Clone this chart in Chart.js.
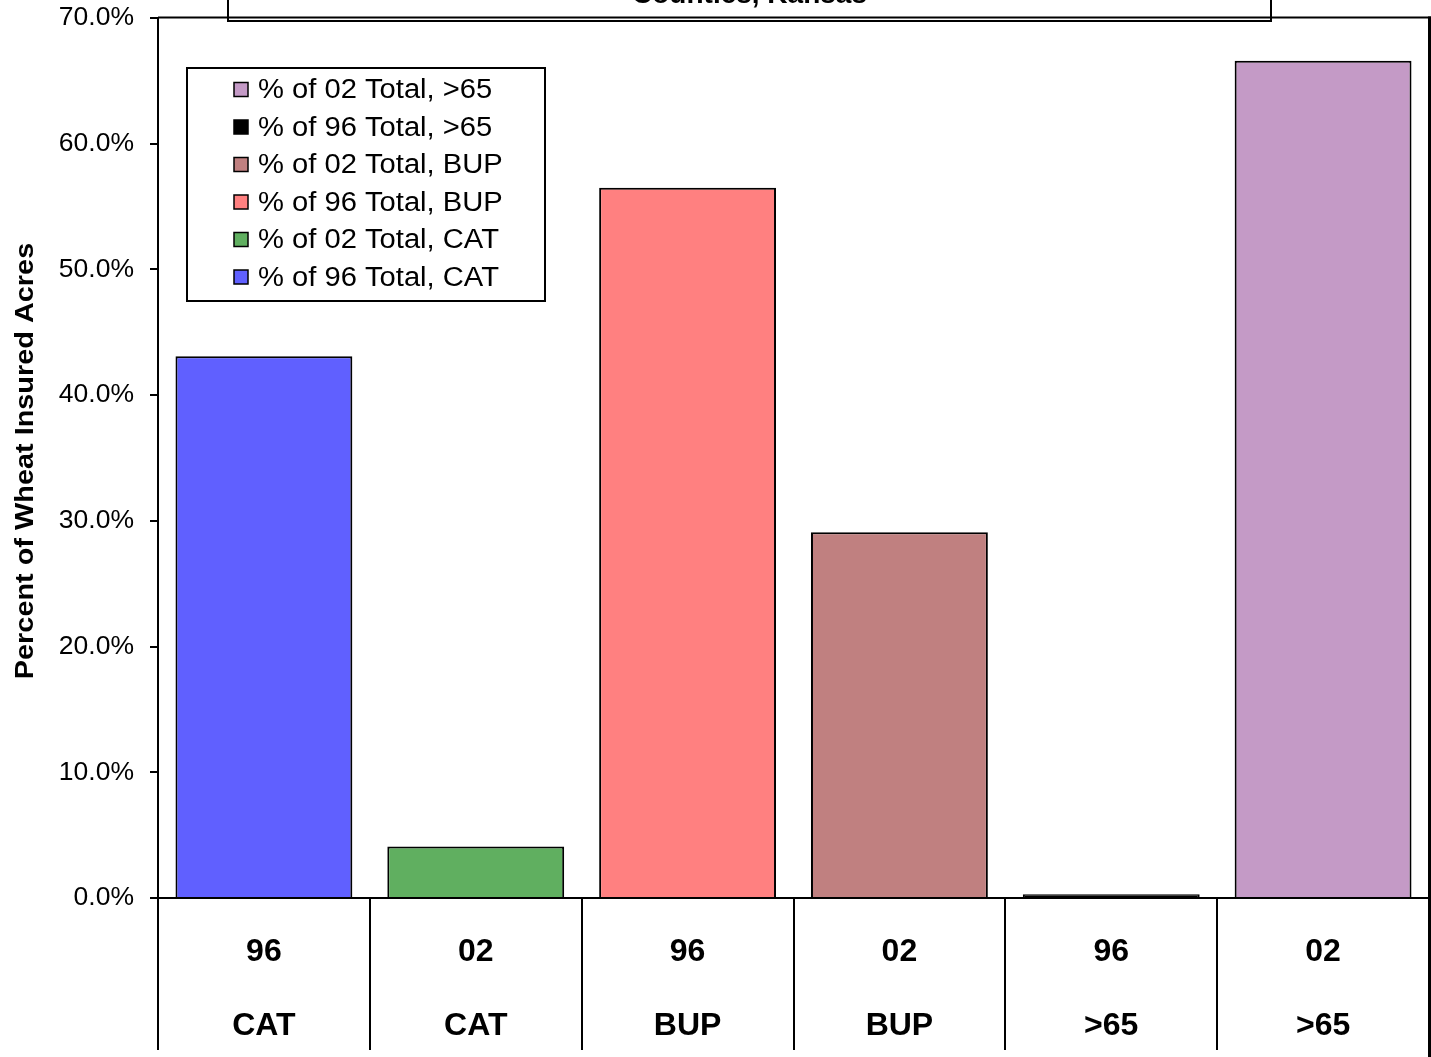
<!DOCTYPE html>
<html>
<head>
<meta charset="utf-8">
<title>Percent of Wheat Insured Acres</title>
<script src="https://cdn.jsdelivr.net/npm/chart.js@4.4.1/dist/chart.umd.min.js"></script>
<style>
  html, body { margin: 0; padding: 0; background: #ffffff; }
  #wrap { width: 1431px; height: 1057px; }
</style>
</head>
<body>
<div id="wrap"><canvas id="chart" width="1431" height="1057"></canvas></div>
<script>
// Crop year and coverage level for each bar (two-level category axis)
const years = ['96', '02', '96', '02', '96', '02'];
const coverage = ['CAT', 'CAT', 'BUP', 'BUP', '>65', '>65'];

// One series per bar, each holding a single share of insured acres (%)
const seriesNames = [
  '% of 96 Total, CAT',
  '% of 02 Total, CAT',
  '% of 96 Total, BUP',
  '% of 02 Total, BUP',
  '% of 96 Total, >65',
  '% of 02 Total, >65'
];
const seriesValues = [43.1, 4.1, 56.5, 29.1, 0.3, 66.6];
const seriesColors = ['#6060FF', '#60AF60', '#FF8080', '#C08080', '#000000', '#C49AC6'];

// Value axis
const yMin = 0;
const yMax = 70;
const yStep = 10;

const axisTitle = 'Percent of Wheat Insured Acres';
const chartTitleTail = 'Counties, Kansas';

const FONT = "'Liberation Sans', Arial, Helvetica, sans-serif";

const categoryLabels = years.map((y, i) => [y, coverage[i]]);

const datasets = seriesNames.map((name, i) => ({
  label: name,
  data: seriesValues.map((v, j) => (j === i ? v : null)),
  backgroundColor: seriesColors[i],
  borderColor: '#000000',
  borderWidth: 2,
  borderSkipped: 'start'
}));

// Frame, boxed title, in-plot legend and rotated axis title
const decorations = {
  id: 'decorations',
  beforeDraw(chart) {
    const ctx = chart.ctx;
    ctx.save();
    ctx.fillStyle = '#ffffff';
    ctx.fillRect(0, 0, chart.width, chart.height);
    ctx.restore();
  },
  afterDraw(chart) {
    const ctx = chart.ctx;
    const area = chart.chartArea;
    ctx.save();

    // Title box (its upper part lies above the canvas)
    ctx.fillStyle = '#ffffff';
    ctx.fillRect(228, -20, 1043, 41);
    ctx.strokeStyle = '#000000';
    ctx.lineWidth = 2;
    ctx.strokeRect(228, -20, 1043, 41);
    ctx.fillStyle = '#000000';
    ctx.font = 'bold 28px ' + FONT;
    ctx.textAlign = 'center';
    ctx.textBaseline = 'alphabetic';
    ctx.fillText(chartTitleTail, 749.5, 3);

    // Plot frame: top and right edges
    ctx.strokeStyle = '#000000';
    ctx.lineWidth = 2;
    ctx.beginPath();
    ctx.moveTo(area.left, area.top - 0.5);
    ctx.lineTo(chart.width, area.top - 0.5);
    ctx.stroke();
    ctx.lineWidth = 3;
    ctx.beginPath();
    ctx.moveTo(area.right + 0.5, area.top - 1.5);
    ctx.lineTo(area.right + 0.5, chart.height);
    ctx.stroke();

    // Legend box, entries listed last series first
    const lx = 187, ly = 68, lw = 358, lh = 233;
    ctx.fillStyle = '#ffffff';
    ctx.fillRect(lx, ly, lw, lh);
    ctx.lineWidth = 2;
    ctx.strokeStyle = '#000000';
    ctx.strokeRect(lx, ly, lw, lh);
    ctx.font = '27px ' + FONT;
    ctx.textAlign = 'left';
    ctx.textBaseline = 'alphabetic';
    const order = chart.data.datasets.map((d, i) => i).reverse();
    order.forEach((di, row) => {
      const ds = chart.data.datasets[di];
      const cy = 89.5 + row * 37.5;
      ctx.fillStyle = ds.backgroundColor;
      ctx.fillRect(234, cy - 7, 14, 14);
      ctx.lineWidth = 1.5;
      ctx.strokeStyle = '#000000';
      ctx.strokeRect(234, cy - 7, 14, 14);
      ctx.save();
      ctx.translate(258, cy + 8.5);
      ctx.scale(1.08, 1);
      ctx.fillStyle = '#000000';
      ctx.fillText(ds.label, 0, 0);
      ctx.restore();
    });

    // Value axis title
    ctx.save();
    ctx.translate(33, (area.top + area.bottom) / 2 + 3);
    ctx.rotate(-Math.PI / 2);
    ctx.scale(1.155, 1);
    ctx.font = 'bold 25px ' + FONT;
    ctx.textAlign = 'center';
    ctx.textBaseline = 'alphabetic';
    ctx.fillStyle = '#000000';
    ctx.fillText(axisTitle, 0, 0);
    ctx.restore();

    ctx.restore();
  }
};

new Chart(document.getElementById('chart'), {
  type: 'bar',
  data: { labels: categoryLabels, datasets: datasets },
  plugins: [decorations],
  options: {
    responsive: false,
    animation: false,
    devicePixelRatio: 1,
    layout: { padding: { top: 18, right: 2, left: 0, bottom: 0 } },
    plugins: {
      legend: { display: false },
      tooltip: { enabled: false },
      title: { display: false }
    },
    datasets: {
      bar: {
        skipNull: true,
        categoryPercentage: 1.0,
        barPercentage: 0.835
      }
    },
    scales: {
      x: {
        offset: true,
        afterFit(scale) {
          scale.height = 159;
          scale.paddingLeft = 0;
          scale.paddingRight = 0;
        },
        border: { display: true, color: '#000000', width: 2 },
        grid: {
          offset: true,
          drawOnChartArea: false,
          drawTicks: true,
          tickLength: 152,
          color: '#000000',
          lineWidth: 2
        },
        ticks: {
          color: '#000000',
          font: { family: FONT, size: 32, weight: 'bold', lineHeight: 2.29 },
          padding: -134,
          maxRotation: 0,
          autoSkip: false
        }
      },
      y: {
        min: yMin,
        max: yMax,
        afterFit(scale) {
          scale.width = 158;
          scale.paddingTop = 0;
          scale.paddingBottom = 0;
        },
        border: { display: true, color: '#000000', width: 2 },
        grid: {
          drawOnChartArea: false,
          drawTicks: true,
          tickLength: 8,
          color: '#000000',
          lineWidth: 2
        },
        ticks: {
          stepSize: yStep,
          color: '#000000',
          padding: 16,
          font: { family: FONT, size: 26.5, lineHeight: 0.8 },
          callback: (v) => Number(v).toFixed(1) + '%'
        }
      }
    }
  }
});
</script>
</body>
</html>
